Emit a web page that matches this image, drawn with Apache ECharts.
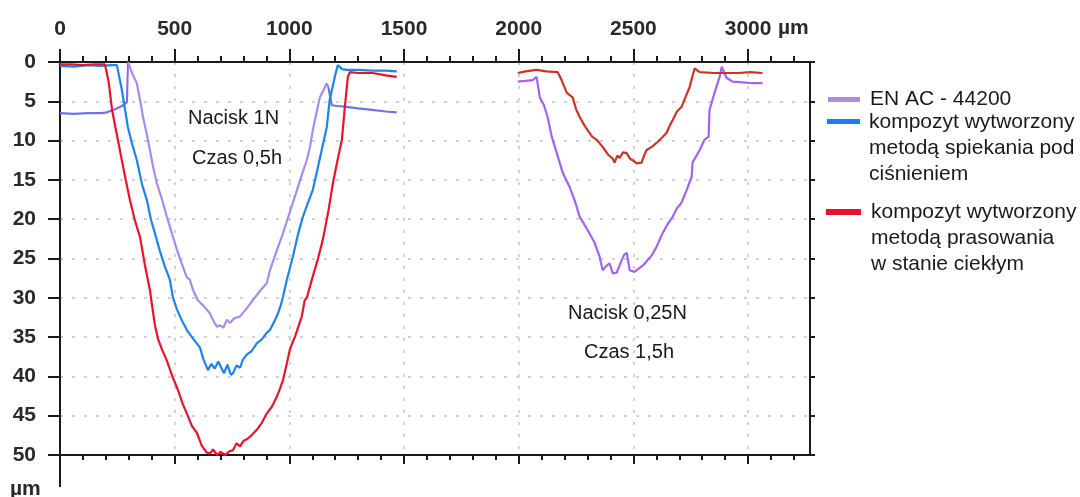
<!doctype html>
<html>
<head>
<meta charset="utf-8">
<title>Profil śladu wytarcia</title>
<script src="https://cdn.jsdelivr.net/npm/echarts@6/dist/echarts.min.js"></script>
<style>html,body{margin:0;background:#fff}#chart{width:1080px;height:497px}</style>
</head>
<body>
<div id="chart"></div>
<script>
// wartości: [x µm, głębokość µm]
const majorTicks = [0, 500, 1000, 1500, 2000, 2500, 3000];
const minorTicks = [100, 200, 300, 400, 600, 700, 800, 900, 1100, 1200, 1300, 1400,
  1600, 1700, 1800, 1900, 2100, 2200, 2300, 2400, 2600, 2700, 2800, 2900, 3100, 3200];
const depthTicks = [0, 5, 10, 15, 20, 25, 30, 35, 40, 45, 50];

const seriesNames = [
  "EN AC - 44200",
  "kompozyt wytworzony\nmetodą spiekania pod\nciśnieniem",
  "kompozyt wytworzony\nmetodą prasowania\nw stanie ciekłym"
];

// Nacisk 1N, czas 0,5h
const enacLeft = [[0,6.5],[60,6.6],[120,6.5],[180,6.5],[205,6.4],[240,6.0],[270,5.6],[292,5.1],[297,0],[315,1.5],[335,2.7],[350,5],[362,7],[377,9],[392,11.2],[407,13.5],[422,15.4],[445,17.5],[466,19.7],[490,22],[510,23.9],[530,25.6],[553,27.4],[566,27.7],[580,29],[601,30.3],[625,31],[654,32],[670,33],[685,33.7],[697,33.5],[712,33.8],[728,32.8],[741,33.2],[760,32.6],[784,32.4],[810,31.5],[841,30.3],[870,29.2],[902,28.1],[915,26.5],[945,24],[972,21.8],[1000,19.3],[1033,16.3],[1055,14.3],[1076,12.5],[1090,10.8],[1102,8.7],[1118,6.5],[1133,4.5],[1150,3.5],[1163,2.7],[1172,3.5],[1185,5.5],[1210,5.6],[1250,5.7],[1300,5.9],[1360,6.1],[1420,6.3],[1468,6.4]];
const spiekLeft = [[0,0.5],[60,0.6],[120,0.4],[180,0.5],[227,0.4],[248,0.4],[270,3.6],[296,8.3],[315,10.5],[335,12.5],[357,15.5],[379,17.6],[396,20],[414,21.8],[435,24],[457,26],[479,27.7],[492,29.9],[510,31.5],[530,32.8],[553,34.1],[580,35.2],[610,36.3],[625,37.8],[645,39.2],[660,38.4],[675,39],[690,38.1],[697,38.3],[715,39.6],[730,38.5],[745,39.8],[754,39.6],[770,38.6],[785,38.9],[797,37.9],[815,37.2],[835,36.8],[858,35.8],[880,35.3],[900,34.5],[915,34.1],[935,33],[950,32],[962,31],[972,29.9],[989,27.7],[1000,26.5],[1015,24.8],[1037,22],[1059,19.7],[1080,18],[1102,16.3],[1120,14],[1141,11.2],[1163,8.3],[1176,4.8],[1198,1.9],[1211,0.4],[1230,0.9],[1250,1.0],[1300,1.0],[1360,1.1],[1420,1.1],[1468,1.2]];
const prasLeft = [[0,0.3],[50,0.3],[100,0.4],[150,0.3],[196,0.3],[212,2.5],[227,6.1],[245,8.8],[261,11.2],[283,14.5],[305,17.6],[327,20.2],[349,22.3],[370,25.8],[392,29],[403,31.3],[414,33.5],[428,35.3],[445,36.6],[466,38],[490,40],[514,41.7],[535,43.5],[553,44.7],[575,46.3],[597,47.2],[618,48.8],[640,49.7],[655,49.8],[667,49.3],[685,50],[700,49.6],[720,50],[740,49.5],[754,49.4],[770,48.5],[785,48.9],[800,48.2],[815,48],[835,47.5],[858,46.8],[880,45.9],[902,44.7],[925,43.8],[945,42.6],[960,41.5],[972,40.5],[988,38.5],[1002,36.6],[1015,35.6],[1024,35],[1040,33.6],[1054,32.4],[1067,30.3],[1076,30.0],[1100,27.5],[1125,25],[1146,22.6],[1170,19],[1190,15.4],[1210,12.5],[1229,9.9],[1242,5.7],[1255,1.9],[1264,1.3],[1300,1.4],[1364,1.4],[1420,1.7],[1468,1.9]];

// Nacisk 0,25N, czas 1,5h
const enacRight = [[1996,2.5],[2030,2.4],[2061,2.3],[2078,1.9],[2092,4.5],[2110,5.5],[2126,7.0],[2144,9.5],[2166,11.6],[2192,14.1],[2222,15.9],[2244,17.6],[2266,19.7],[2301,21.4],[2331,23.0],[2353,24.8],[2366,26.5],[2380,26],[2396,25.6],[2410,26.9],[2427,26.8],[2445,25.5],[2460,24.5],[2471,24.3],[2484,26.5],[2505,26.7],[2527,26.2],[2545,25.8],[2562,25.2],[2580,24.6],[2601,23.5],[2627,21.8],[2650,20.6],[2671,19.7],[2690,18.6],[2710,17.9],[2732,16.3],[2754,14.6],[2758,12.8],[2789,11.2],[2810,9.9],[2828,9.5],[2832,6.1],[2854,3.9],[2876,1.9],[2885,0.6],[2906,2.0],[2932,2.5],[2980,2.6],[3020,2.7],[3063,2.7]];
const prasRight = [[1996,1.4],[2030,1.2],[2078,1.0],[2120,1.2],[2170,1.3],[2187,2.3],[2209,3.9],[2235,4.5],[2250,6],[2266,7],[2285,8],[2301,8.7],[2320,9.5],[2340,9.9],[2366,10.8],[2390,11.8],[2410,12.3],[2418,12.8],[2430,11.9],[2440,12.2],[2455,11.5],[2471,11.6],[2485,12.3],[2497,12.5],[2515,12.9],[2536,12.8],[2548,11.8],[2558,11.2],[2580,10.8],[2601,10.3],[2625,9.6],[2645,9.0],[2660,8],[2671,7.4],[2690,6.3],[2710,5.7],[2728,4.4],[2745,3.2],[2767,0.8],[2789,1.3],[2850,1.4],[2906,1.4],[2960,1.4],[3010,1.3],[3063,1.4]];

const FONT = "'Liberation Sans', Arial, sans-serif";
const INK = "#1a1a1a";

const chart = echarts.init(document.getElementById("chart"), null, { renderer: "canvas" });

// wspólny styl osi
const axisLine = { show: true, onZero: false, lineStyle: { color: INK, width: 2 } };
const noLine = { show: false, onZero: false };
const grid = { type: [3, 9], color: "#c4c4c4", width: 1.5 };
const tickFont = { fontSize: 21, fontWeight: "bold", fontFamily: FONT, color: "#2a2a2a" };

function xAxisBase(position) {
  return { type: "value", position, min: 0, max: 3270, interval: 500, splitLine: { show: false }, axisLabel: { show: false } };
}

const option = {
  animation: false,
  backgroundColor: "#fff",
  grid: { left: 60, top: 62, width: 750, height: 393, containLabel: false },
  xAxis: [
    Object.assign(xAxisBase("top"), {
      axisLine,
      axisTick: { show: true, length: 13, customValues: majorTicks, lineStyle: { color: INK, width: 2 } },
      axisLabel: Object.assign({ show: true, customValues: majorTicks, margin: 22, formatter: (v) => String(v) }, tickFont),
      splitLine: { show: true, lineStyle: grid }
    }),
    Object.assign(xAxisBase("top"), {
      axisLine: noLine,
      axisTick: { show: true, length: 6, customValues: minorTicks, lineStyle: { color: INK, width: 2 } }
    }),
    Object.assign(xAxisBase("bottom"), {
      axisLine,
      axisTick: { show: true, length: 9, customValues: majorTicks, lineStyle: { color: INK, width: 2 } }
    }),
    Object.assign(xAxisBase("bottom"), {
      axisLine: noLine,
      axisTick: { show: true, length: 5, customValues: minorTicks, lineStyle: { color: INK, width: 2 } }
    })
  ],
  yAxis: [
    {
      type: "value", position: "left", inverse: true, min: 0, max: 50, interval: 5,
      axisLine,
      axisTick: { show: true, length: 12, lineStyle: { color: INK, width: 2 } },
      axisLabel: Object.assign({ customValues: depthTicks, margin: 24, formatter: (v) => String(v) }, tickFont),
      splitLine: { show: true, lineStyle: grid }
    },
    {
      type: "value", position: "right", inverse: true, min: 0, max: 50, interval: 5,
      axisLine,
      axisTick: { show: true, length: 5, lineStyle: { color: INK, width: 2 } },
      axisLabel: { show: false },
      splitLine: { show: false }
    }
  ],
  visualMap: [{
    show: false, type: "piecewise", seriesIndex: 0, dimension: 0,
    pieces: [
      { lt: 296, color: "#7372e4" },
      { gte: 296, lte: 1170, color: "#a98aee" },
      { gt: 1170, color: "#7372e4" }
    ]
  }],
  series: [
    { name: seriesNames[0], type: "line", data: enacLeft, showSymbol: false, lineStyle: { width: 2.2 } },
    { name: seriesNames[1], type: "line", data: spiekLeft, showSymbol: false, color: "#1c84ec", lineStyle: { width: 2.2 } },
    { name: seriesNames[2], type: "line", data: prasLeft, showSymbol: false, color: "#e8142e", lineStyle: { width: 2.2 } },
    { name: seriesNames[0], type: "line", data: enacRight, showSymbol: false, color: "#a064f0", lineStyle: { width: 2.2 } },
    { name: seriesNames[2], type: "line", data: prasRight, showSymbol: false, color: "#cc3424", lineStyle: { width: 2.2 } }
  ].map((s) => Object.assign(s, { xAxisIndex: 0, yAxisIndex: 0, clip: true, silent: true })),
  graphic: [
    // przedłużenie osi Y pod wykresem i jednostki
    { type: "line", shape: { x1: 60, y1: 455, x2: 60, y2: 487 }, style: { stroke: INK, lineWidth: 2 } },
    { type: "text", x: 10, y: 489, style: { text: "µm", font: `bold 21px ${FONT}`, fill: "#2a2a2a", verticalAlign: "middle" } },
    { type: "text", x: 778, y: 28, style: { text: "µm", font: `bold 21px ${FONT}`, fill: "#2a2a2a", verticalAlign: "middle" } },
    // opisy warunków
    { type: "text", x: 188, y: 118, style: { text: "Nacisk 1N", font: `20px ${FONT}`, fill: INK, verticalAlign: "middle" } },
    { type: "text", x: 192, y: 158, style: { text: "Czas 0,5h", font: `20px ${FONT}`, fill: INK, verticalAlign: "middle" } },
    { type: "text", x: 568, y: 313, style: { text: "Nacisk 0,25N", font: `20px ${FONT}`, fill: INK, verticalAlign: "middle" } },
    { type: "text", x: 584, y: 352, style: { text: "Czas 1,5h", font: `20px ${FONT}`, fill: INK, verticalAlign: "middle" } },
    // legenda
    { type: "rect", shape: { x: 828, y: 97, width: 32, height: 5 }, style: { fill: "#a98ee0" } },
    { type: "rect", shape: { x: 827, y: 119, width: 33, height: 5 }, style: { fill: "#1a7ef0" } },
    { type: "rect", shape: { x: 826, y: 209, width: 35, height: 6 }, style: { fill: "#e8102c" } },
    { type: "text", x: 870, y: 99, style: { text: seriesNames[0], font: `21px ${FONT}`, fill: INK, verticalAlign: "middle" } },
    { type: "text", x: 869, y: 148, style: { text: seriesNames[1], font: `21px ${FONT}`, lineHeight: 26, fill: INK, verticalAlign: "middle" } },
    { type: "text", x: 871, y: 238, style: { text: seriesNames[2], font: `21px ${FONT}`, lineHeight: 26, fill: INK, verticalAlign: "middle" } }
  ]
};

chart.setOption(option);
</script>
</body>
</html>
